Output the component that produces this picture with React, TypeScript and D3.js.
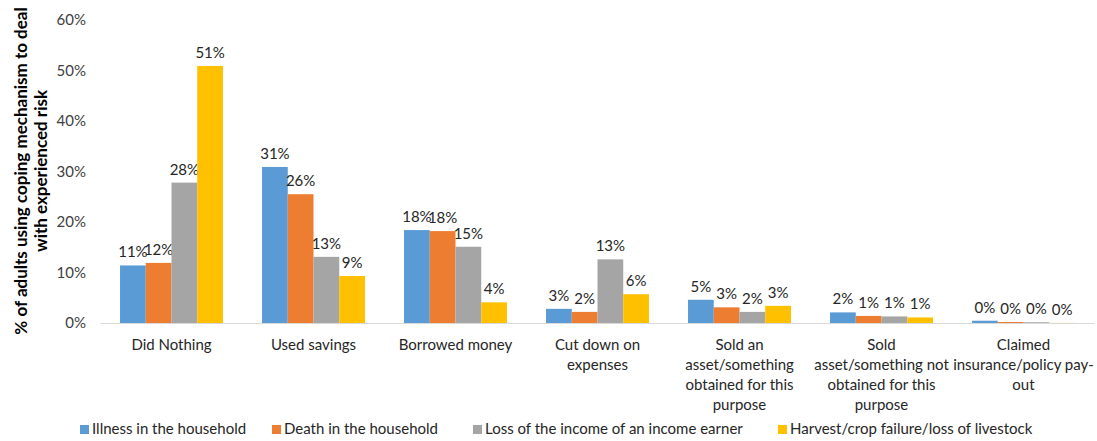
import React from "react";
import * as d3 from "d3";

const categories = [
  "Did Nothing",
  "Used savings",
  "Borrowed money",
  "Cut down on\nexpenses",
  "Sold an\nasset/something\nobtained for this\npurpose",
  "Sold\nasset/something not\nobtained for this\npurpose",
  "Claimed\ninsurance/policy pay-\nout",
];
const seriesNames = [
  "Illness in the household",
  "Death in the household",
  "Loss of the income of an income earner",
  "Harvest/crop failure/loss of livestock",
];
const illnessVals = [11.4, 30.9, 18.4, 2.8, 4.6, 2.1, 0.45];
const deathVals = [11.9, 25.5, 18.2, 2.2, 3.1, 1.4, 0.2];
const incomeVals = [27.8, 13.1, 15.1, 12.6, 2.2, 1.3, 0.15];
const harvestVals = [50.9, 9.3, 4.1, 5.7, 3.4, 1.1, 0.02];
const labelIllness = ["11%", "31%", "18%", "3%", "5%", "2%", "0%"];
const labelDeath = ["12%", "26%", "18%", "2%", "3%", "1%", "0%"];
const labelIncome = ["28%", "13%", "15%", "13%", "2%", "1%", "0%"];
const labelHarvest = ["51%", "9%", "4%", "6%", "3%", "1%", "0%"];
const yTicks = [0, 10, 20, 30, 40, 50, 60];
const colors = ["#5B9BD5", "#ED7D31", "#A5A5A5", "#FFC000"];
const yTitle = ["% of adults using coping mechanism to deal", "with experienced risk"];

const W = 1097;
const H = 441;
const font = "Lato, 'Open Sans', sans-serif";

export default function App() {
  const values = [illnessVals, deathVals, incomeVals, harvestVals];
  const labels = [labelIllness, labelDeath, labelIncome, labelHarvest];
  const x0 = d3.scaleBand().domain(categories).range([100.5, 1094.5]).paddingInner(0.275).paddingOuter(0.1375);
  const x1 = d3.scaleBand().domain(seriesNames).range([0, x0.bandwidth()]);
  const y = d3.scaleLinear().domain([0, 60]).range([323, 20]);
  const legendX = [80, 272, 473, 778];

  return (
    <svg width={W} height={H} style={{ position: "absolute", left: 0, top: 0, background: "#fff" }}>
      <rect width={W} height={H} fill="#fff" />
      {yTicks.map((t) => (
        <text key={t} x={86} y={y(t)} dy="0.35em" textAnchor="end" fontFamily={font} fontSize={15} fill="#404040">
          {t}%
        </text>
      ))}
      <g transform={`translate(0, ${171}) rotate(-90)`}>
        {yTitle.map((l, i) => (
          <text key={i} x={0} y={27 + i * 20} textAnchor="middle" fontFamily={font} fontSize={17} fontWeight="bold" fill="#000">
            {l}
          </text>
        ))}
      </g>
      {categories.map((c, ci) => (
        <g key={c} transform={`translate(${x0(c)},0)`}>
          {values.map((vals, si) => {
            const xs = x1(seriesNames[si])!;
            const v = vals[ci];
            return (
              <g key={si}>
                <rect x={xs} y={y(v)} width={x1.bandwidth()} height={y(0) - y(v)} fill={colors[si]} />
                <text x={xs + x1.bandwidth() / 2} y={y(v) - 8} textAnchor="middle" fontFamily={font} fontSize={15} fill="#262626">
                  {labels[si][ci]}
                </text>
              </g>
            );
          })}
          {c.split("\n").map((line, li) => (
            <text key={li} x={x0.bandwidth() / 2} y={350 + li * 20} textAnchor="middle" fontFamily={font} fontSize={15} fill="#262626">
              {line}
            </text>
          ))}
        </g>
      ))}
      <line x1={100.5} x2={1094.5} y1={323.5} y2={323.5} stroke="#D9D9D9" strokeWidth={1} />
      {seriesNames.map((s, i) => (
        <g key={s} transform={`translate(${legendX[i]}, 434)`}>
          <rect x={0} y={-9} width={9} height={9} fill={colors[i]} />
          <text x={12} y={0} fontFamily={font} fontSize={15} fill="#262626">
            {s}
          </text>
        </g>
      ))}
    </svg>
  );
}
